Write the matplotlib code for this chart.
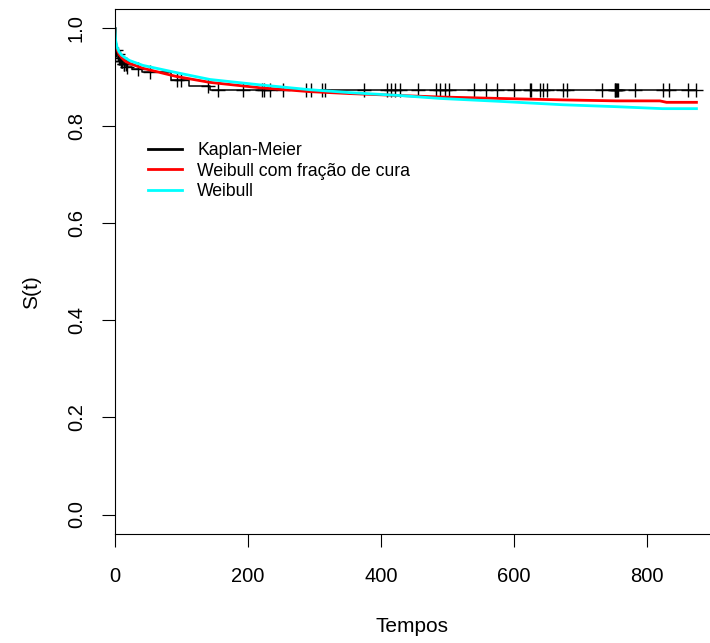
import numpy as np
import matplotlib
matplotlib.use("Agg")
import matplotlib.pyplot as plt

plt.rcParams['font.family'] = ['Liberation Sans', 'DejaVu Sans']

# Kaplan-Meier (degraus)
km_tempos = [0, 1, 2, 3, 5, 8, 12, 17, 25, 40, 85, 112, 143, 875]
km_surv = [1.0, 0.962, 0.955, 0.948, 0.940, 0.933, 0.927, 0.921, 0.916, 0.911,
           0.893, 0.881, 0.874, 0.874]

# tempos censurados
censuras = [2, 4, 6, 7, 9, 10, 11, 13, 14, 16, 18, 35, 52, 93, 100, 140, 155,
            192, 221, 224, 233, 253, 288, 295, 311, 316, 374, 410, 416, 422,
            429, 456, 483, 489, 496, 503, 540, 559, 575, 600, 624, 626, 639,
            644, 650, 674, 680, 733, 752, 753, 754, 756, 757, 783, 825, 833,
            863, 875]

# Weibull com fracao de cura
cura_t = [0, 1, 3, 6, 10, 15, 22, 42, 93, 143, 218, 293, 353, 429, 489, 579,
          674, 755, 820, 830, 875]
cura_s = [1.0, 0.970, 0.957, 0.947, 0.940, 0.933, 0.928, 0.918, 0.901, 0.889,
          0.878, 0.870, 0.866, 0.862, 0.859, 0.856, 0.853, 0.851, 0.851, 0.848,
          0.848]

# Weibull
weib_t = [0, 1, 3, 6, 10, 15, 22, 42, 93, 143, 218, 293, 353, 429, 489, 579,
          674, 755, 824, 875]
weib_s = [1.0, 0.975, 0.962, 0.952, 0.945, 0.940, 0.934, 0.924, 0.909, 0.895,
          0.884, 0.874, 0.868, 0.862, 0.856, 0.850, 0.843, 0.839, 0.835, 0.835]

fig = plt.figure(figsize=(7.1, 6.43), dpi=100)
ax = fig.add_axes([115/710, 1 - 534/643, 1 - 115/710, 525/643])

ax.step(km_tempos, km_surv, where='post', color='black', lw=1.1, label='Kaplan-Meier')
idx = np.searchsorted(km_tempos, censuras, side='right') - 1
ax.plot(censuras, np.array(km_surv)[idx], '+', color='black', ms=10, mew=1.0)
ax.plot(cura_t, cura_s, color='red', lw=2.0, label='Weibull com fração de cura')
ax.plot(weib_t, weib_s, color='cyan', lw=2.0, label='Weibull')

ax.set_xlim(0, 895.4)
ax.set_ylim(-0.04, 1.04)
ax.set_xticks([0, 200, 400, 600, 800])
ax.set_yticks([0.0, 0.2, 0.4, 0.6, 0.8, 1.0])
ax.set_yticklabels(['0.0', '0.2', '0.4', '0.6', '0.8', '1.0'], rotation=90, va='center')
ax.tick_params(axis='both', length=9.5, width=0.8, labelsize=14.5)
ax.tick_params(axis='x', pad=14)
ax.tick_params(axis='y', pad=11.5)
ax.spines['right'].set_visible(False)
for s in ['left', 'top', 'bottom']:
    ax.spines[s].set_linewidth(0.8)

fig.text(412/710, 1 - 626/643, 'Tempos', ha='center', va='center', fontsize=15)
fig.text(32/710, 1 - 292/643, 'S(t)', ha='center', va='center', fontsize=15, rotation=90)

leg = ax.legend(loc='upper left', bbox_to_anchor=(0.044, 0.76), frameon=False,
                fontsize=12.7, handlelength=1.93, handletextpad=0.85, labelspacing=0.2,
                borderaxespad=0)
for h in leg.get_lines():
    h.set_linewidth(2.0)

fig.savefig('out.png', dpi=100)
